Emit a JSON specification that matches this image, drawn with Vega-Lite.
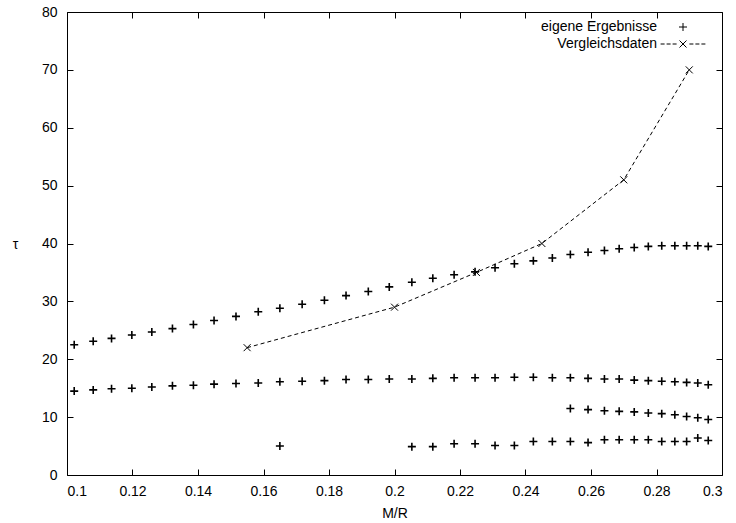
{
  "$schema": "https://vega.github.io/schema/vega-lite/v6.json",
  "autosize": {"type": "none"},
  "width": 655,
  "height": 463,
  "padding": {"left": 67, "top": 12, "right": 14, "bottom": 48},
  "background": "white",
  "config": {
    "font": "Liberation Sans",
    "view": {"stroke": "black", "strokeWidth": 1},
    "axis": {"grid": false, "labelFontSize": 14, "labelColor": "black", "tickColor": "black", "titleFontSize": 14, "titleFontWeight": "normal", "titleColor": "black", "labelFont": "Liberation Sans", "titleFont": "Liberation Sans"},
    "legend": {"labelFontSize": 14, "labelColor": "black", "labelFont": "Liberation Sans"}
  },
  "data": {"values": [
    {"x": 0.1022, "y": 22.5, "s": "eigene Ergebnisse"},
    {"x": 0.108, "y": 23.1, "s": "eigene Ergebnisse"},
    {"x": 0.1136, "y": 23.6, "s": "eigene Ergebnisse"},
    {"x": 0.1198, "y": 24.2, "s": "eigene Ergebnisse"},
    {"x": 0.1259, "y": 24.7, "s": "eigene Ergebnisse"},
    {"x": 0.1322, "y": 25.3, "s": "eigene Ergebnisse"},
    {"x": 0.1386, "y": 26.0, "s": "eigene Ergebnisse"},
    {"x": 0.1449, "y": 26.7, "s": "eigene Ergebnisse"},
    {"x": 0.1516, "y": 27.4, "s": "eigene Ergebnisse"},
    {"x": 0.1584, "y": 28.2, "s": "eigene Ergebnisse"},
    {"x": 0.165, "y": 28.8, "s": "eigene Ergebnisse"},
    {"x": 0.1718, "y": 29.5, "s": "eigene Ergebnisse"},
    {"x": 0.1786, "y": 30.2, "s": "eigene Ergebnisse"},
    {"x": 0.1852, "y": 31.0, "s": "eigene Ergebnisse"},
    {"x": 0.192, "y": 31.7, "s": "eigene Ergebnisse"},
    {"x": 0.1984, "y": 32.5, "s": "eigene Ergebnisse"},
    {"x": 0.2053, "y": 33.3, "s": "eigene Ergebnisse"},
    {"x": 0.2117, "y": 34.0, "s": "eigene Ergebnisse"},
    {"x": 0.2182, "y": 34.6, "s": "eigene Ergebnisse"},
    {"x": 0.2246, "y": 35.1, "s": "eigene Ergebnisse"},
    {"x": 0.2307, "y": 35.8, "s": "eigene Ergebnisse"},
    {"x": 0.2366, "y": 36.5, "s": "eigene Ergebnisse"},
    {"x": 0.2424, "y": 37.0, "s": "eigene Ergebnisse"},
    {"x": 0.2482, "y": 37.5, "s": "eigene Ergebnisse"},
    {"x": 0.2537, "y": 38.1, "s": "eigene Ergebnisse"},
    {"x": 0.2591, "y": 38.5, "s": "eigene Ergebnisse"},
    {"x": 0.2641, "y": 38.8, "s": "eigene Ergebnisse"},
    {"x": 0.2686, "y": 39.1, "s": "eigene Ergebnisse"},
    {"x": 0.2732, "y": 39.3, "s": "eigene Ergebnisse"},
    {"x": 0.2775, "y": 39.5, "s": "eigene Ergebnisse"},
    {"x": 0.2816, "y": 39.6, "s": "eigene Ergebnisse"},
    {"x": 0.2856, "y": 39.6, "s": "eigene Ergebnisse"},
    {"x": 0.2892, "y": 39.6, "s": "eigene Ergebnisse"},
    {"x": 0.2926, "y": 39.6, "s": "eigene Ergebnisse"},
    {"x": 0.2958, "y": 39.5, "s": "eigene Ergebnisse"},
    {"x": 0.1022, "y": 14.5, "s": "eigene Ergebnisse"},
    {"x": 0.108, "y": 14.7, "s": "eigene Ergebnisse"},
    {"x": 0.1136, "y": 14.9, "s": "eigene Ergebnisse"},
    {"x": 0.1198, "y": 15.0, "s": "eigene Ergebnisse"},
    {"x": 0.1259, "y": 15.2, "s": "eigene Ergebnisse"},
    {"x": 0.1322, "y": 15.4, "s": "eigene Ergebnisse"},
    {"x": 0.1386, "y": 15.5, "s": "eigene Ergebnisse"},
    {"x": 0.1449, "y": 15.7, "s": "eigene Ergebnisse"},
    {"x": 0.1516, "y": 15.8, "s": "eigene Ergebnisse"},
    {"x": 0.1584, "y": 15.9, "s": "eigene Ergebnisse"},
    {"x": 0.165, "y": 16.1, "s": "eigene Ergebnisse"},
    {"x": 0.1718, "y": 16.2, "s": "eigene Ergebnisse"},
    {"x": 0.1786, "y": 16.3, "s": "eigene Ergebnisse"},
    {"x": 0.1852, "y": 16.5, "s": "eigene Ergebnisse"},
    {"x": 0.192, "y": 16.5, "s": "eigene Ergebnisse"},
    {"x": 0.1984, "y": 16.6, "s": "eigene Ergebnisse"},
    {"x": 0.2053, "y": 16.6, "s": "eigene Ergebnisse"},
    {"x": 0.2117, "y": 16.7, "s": "eigene Ergebnisse"},
    {"x": 0.2182, "y": 16.8, "s": "eigene Ergebnisse"},
    {"x": 0.2246, "y": 16.8, "s": "eigene Ergebnisse"},
    {"x": 0.2307, "y": 16.8, "s": "eigene Ergebnisse"},
    {"x": 0.2366, "y": 16.9, "s": "eigene Ergebnisse"},
    {"x": 0.2424, "y": 16.9, "s": "eigene Ergebnisse"},
    {"x": 0.2482, "y": 16.8, "s": "eigene Ergebnisse"},
    {"x": 0.2537, "y": 16.8, "s": "eigene Ergebnisse"},
    {"x": 0.2591, "y": 16.7, "s": "eigene Ergebnisse"},
    {"x": 0.2641, "y": 16.6, "s": "eigene Ergebnisse"},
    {"x": 0.2686, "y": 16.6, "s": "eigene Ergebnisse"},
    {"x": 0.2732, "y": 16.4, "s": "eigene Ergebnisse"},
    {"x": 0.2775, "y": 16.3, "s": "eigene Ergebnisse"},
    {"x": 0.2816, "y": 16.2, "s": "eigene Ergebnisse"},
    {"x": 0.2856, "y": 16.1, "s": "eigene Ergebnisse"},
    {"x": 0.2892, "y": 16.0, "s": "eigene Ergebnisse"},
    {"x": 0.2926, "y": 15.9, "s": "eigene Ergebnisse"},
    {"x": 0.2958, "y": 15.6, "s": "eigene Ergebnisse"},
    {"x": 0.2537, "y": 11.5, "s": "eigene Ergebnisse"},
    {"x": 0.2591, "y": 11.3, "s": "eigene Ergebnisse"},
    {"x": 0.2641, "y": 11.1, "s": "eigene Ergebnisse"},
    {"x": 0.2686, "y": 11.0, "s": "eigene Ergebnisse"},
    {"x": 0.2732, "y": 10.9, "s": "eigene Ergebnisse"},
    {"x": 0.2775, "y": 10.7, "s": "eigene Ergebnisse"},
    {"x": 0.2816, "y": 10.6, "s": "eigene Ergebnisse"},
    {"x": 0.2856, "y": 10.4, "s": "eigene Ergebnisse"},
    {"x": 0.2892, "y": 10.1, "s": "eigene Ergebnisse"},
    {"x": 0.2926, "y": 9.9, "s": "eigene Ergebnisse"},
    {"x": 0.2958, "y": 9.6, "s": "eigene Ergebnisse"},
    {"x": 0.165, "y": 5.0, "s": "eigene Ergebnisse"},
    {"x": 0.2053, "y": 4.9, "s": "eigene Ergebnisse"},
    {"x": 0.2117, "y": 4.9, "s": "eigene Ergebnisse"},
    {"x": 0.2182, "y": 5.4, "s": "eigene Ergebnisse"},
    {"x": 0.2246, "y": 5.4, "s": "eigene Ergebnisse"},
    {"x": 0.2307, "y": 5.1, "s": "eigene Ergebnisse"},
    {"x": 0.2366, "y": 5.1, "s": "eigene Ergebnisse"},
    {"x": 0.2424, "y": 5.8, "s": "eigene Ergebnisse"},
    {"x": 0.2482, "y": 5.8, "s": "eigene Ergebnisse"},
    {"x": 0.2537, "y": 5.8, "s": "eigene Ergebnisse"},
    {"x": 0.2591, "y": 5.6, "s": "eigene Ergebnisse"},
    {"x": 0.2641, "y": 6.1, "s": "eigene Ergebnisse"},
    {"x": 0.2686, "y": 6.1, "s": "eigene Ergebnisse"},
    {"x": 0.2732, "y": 6.1, "s": "eigene Ergebnisse"},
    {"x": 0.2775, "y": 6.1, "s": "eigene Ergebnisse"},
    {"x": 0.2816, "y": 5.8, "s": "eigene Ergebnisse"},
    {"x": 0.2856, "y": 5.8, "s": "eigene Ergebnisse"},
    {"x": 0.2892, "y": 5.8, "s": "eigene Ergebnisse"},
    {"x": 0.2926, "y": 6.4, "s": "eigene Ergebnisse"},
    {"x": 0.2958, "y": 5.95, "s": "eigene Ergebnisse"},
    {"x": 0.155, "y": 22, "s": "Vergleichsdaten"},
    {"x": 0.2, "y": 29, "s": "Vergleichsdaten"},
    {"x": 0.225, "y": 35, "s": "Vergleichsdaten"},
    {"x": 0.245, "y": 40, "s": "Vergleichsdaten"},
    {"x": 0.27, "y": 51, "s": "Vergleichsdaten"},
    {"x": 0.29, "y": 70, "s": "Vergleichsdaten"}
  ]},
  "layer": [
    {
      "transform": [{"filter": "datum.s === 'eigene Ergebnisse'"}],
      "mark": {"type": "point", "filled": false, "color": "black", "strokeWidth": 1.6, "size": 64, "opacity": 1},
      "encoding": {
        "x": {"field": "x", "type": "quantitative", "scale": {"domain": [0.1, 0.3], "nice": false, "zero": false},
          "axis": {"orient": "bottom", "values": [0.1, 0.12, 0.14, 0.16, 0.18, 0.2, 0.22, 0.24, 0.26, 0.28, 0.3], "format": "~g", "tickSize": -6, "domain": false, "labelPadding": 15, "title": "M/R", "titleY": 38, "titleBaseline": "middle"}},
        "y": {"field": "y", "type": "quantitative", "scale": {"domain": [0, 80], "nice": false},
          "axis": {"orient": "left", "values": [0, 10, 20, 30, 40, 50, 60, 70, 80], "tickSize": -6, "domain": false, "labelPadding": 16, "title": "τ", "titleAngle": 0, "titleX": -52, "titleY": 232, "titleAlign": "center", "titleBaseline": "middle"}},
        "shape": {"field": "s", "type": "nominal",
          "scale": {"domain": ["eigene Ergebnisse", "Vergleichsdaten"], "range": ["M-1,0L1,0M0,-1L0,1", "M-5.6,0L-4.6,0M-4.1,0L-3.1,0M-2.6,0L-1.6,0M-0.875,-0.875L0.875,0.875M-0.875,0.875L0.875,-0.875M1.6,0L2.6,0M3.1,0L4.1,0M4.6,0L5.6,0"]},
          "legend": {"title": null, "orient": "none", "legendX": 609, "legendY": 8, "labelAlign": "right", "labelOffset": -33, "symbolSize": 64, "rowPadding": 3, "symbolStrokeColor": "black", "symbolStrokeWidth": 1, "symbolFillColor": "transparent"}
        }
      }
    },
    {
      "transform": [{"filter": "datum.s === 'Vergleichsdaten'"}],
      "mark": {"type": "line", "color": "black", "strokeWidth": 1, "strokeDash": [4, 3]},
      "encoding": {
        "x": {"field": "x", "type": "quantitative", "axis": {"orient": "top", "values": [0.1, 0.12, 0.14, 0.16, 0.18, 0.2, 0.22, 0.24, 0.26, 0.28, 0.3], "tickSize": -6, "domain": false, "labels": false, "title": null}},
        "y": {"field": "y", "type": "quantitative", "axis": {"orient": "right", "values": [0, 10, 20, 30, 40, 50, 60, 70, 80], "tickSize": -6, "domain": false, "labels": false, "title": null}}
      }
    },
    {
      "transform": [{"filter": "datum.s === 'Vergleichsdaten'"}],
      "mark": {"type": "point", "filled": false, "color": "black", "strokeWidth": 1, "size": 49, "opacity": 1, "shape": "M-1,-1L1,1M-1,1L1,-1"},
      "encoding": {
        "x": {"field": "x", "type": "quantitative", "axis": null},
        "y": {"field": "y", "type": "quantitative", "axis": null}
      }
    }
  ],
  "resolve": {"axis": {"x": "independent", "y": "independent"}}
}
